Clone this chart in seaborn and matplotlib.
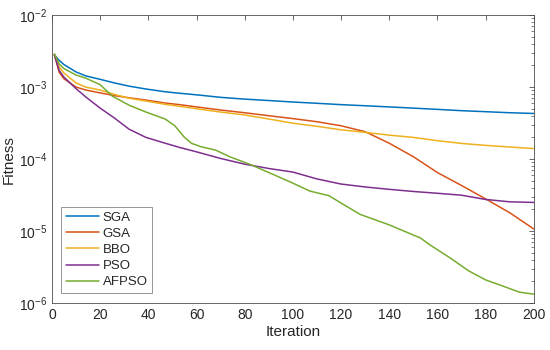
import matplotlib
matplotlib.use('Agg')
import matplotlib.pyplot as plt
import matplotlib.ticker as mticker
import seaborn as sns
import pandas as pd

# values
iters = [1, 3, 5, 10, 14, 20, 26, 32, 39, 47, 53, 60, 70, 80, 90, 100,
         110, 120, 130, 140, 150, 160, 170, 180, 190, 200]
sga = [2.8e-3, 2.35e-3, 2.05e-3, 1.62e-3, 1.43e-3, 1.28e-3, 1.14e-3, 1.03e-3, 9.4e-4,
       8.6e-4, 8.2e-4, 7.8e-4, 7.2e-4, 6.8e-4, 6.5e-4, 6.2e-4, 5.95e-4, 5.7e-4, 5.5e-4,
       5.3e-4, 5.1e-4, 4.9e-4, 4.7e-4, 4.55e-4, 4.4e-4, 4.3e-4]
gsa = [2.8e-3, 1.6e-3, 1.3e-3, 1.0e-3, 9.1e-4, 8.3e-4, 7.6e-4, 7.1e-4, 6.6e-4, 6.0e-4,
       5.7e-4, 5.3e-4, 4.8e-4, 4.4e-4, 4.0e-4, 3.65e-4, 3.3e-4, 2.9e-4, 2.4e-4, 1.66e-4,
       1.08e-4, 6.5e-5, 4.3e-5, 2.8e-5, 1.8e-5, 1.07e-5]
bbo = [2.8e-3, 1.9e-3, 1.56e-3, 1.14e-3, 1.0e-3, 9.1e-4, 7.9e-4, 7.0e-4, 6.4e-4, 5.75e-4,
       5.4e-4, 5.0e-4, 4.5e-4, 4.1e-4, 3.6e-4, 3.15e-4, 2.85e-4, 2.55e-4, 2.35e-4, 2.15e-4,
       2.0e-4, 1.8e-4, 1.65e-4, 1.55e-4, 1.47e-4, 1.4e-4]
pso = [2.8e-3, 1.7e-3, 1.37e-3, 9.5e-4, 7.3e-4, 5.1e-4, 3.7e-4, 2.6e-4, 2.0e-4, 1.66e-4,
       1.45e-4, 1.26e-4, 1.02e-4, 8.5e-5, 7.4e-5, 6.6e-5, 5.3e-5, 4.5e-5, 4.1e-5, 3.8e-5,
       3.55e-5, 3.35e-5, 3.15e-5, 2.75e-5, 2.55e-5, 2.5e-5]
iters_afpso = [1, 3, 5, 10, 14, 20, 25, 32, 39, 47, 51, 55, 58, 62, 68, 74, 82, 90, 99,
               107, 115, 120, 128, 140, 153, 157, 165, 173, 180, 186, 194, 200]
afpso = [2.9e-3, 2.1e-3, 1.8e-3, 1.47e-3, 1.33e-3, 1.08e-3, 7.5e-4, 5.6e-4, 4.5e-4, 3.6e-4,
         2.9e-4, 2.0e-4, 1.65e-4, 1.48e-4, 1.33e-4, 1.07e-4, 8.5e-5, 6.5e-5, 4.8e-5, 3.6e-5,
         3.1e-5, 2.45e-5, 1.7e-5, 1.22e-5, 8.0e-6, 6.4e-6, 4.3e-6, 2.8e-6, 2.1e-6, 1.78e-6,
         1.42e-6, 1.33e-6]

names = ['SGA', 'GSA', 'BBO', 'PSO', 'AFPSO']
colors = ['#0072BD', '#D95319', '#EDB120', '#7E2F8E', '#77AC30']

frames = []
for name, xs, ys in [('SGA', iters, sga), ('GSA', iters, gsa), ('BBO', iters, bbo),
                     ('PSO', iters, pso), ('AFPSO', iters_afpso, afpso)]:
    frames.append(pd.DataFrame({'Iteration': xs, 'Fitness': ys, 'Algorithm': name}))
df = pd.concat(frames, ignore_index=True)

sns.set_style('white')
plt.rcParams['font.family'] = ['Liberation Sans', 'DejaVu Sans']
plt.rcParams['mathtext.fontset'] = 'custom'
plt.rcParams['mathtext.rm'] = 'Liberation Sans'

fig = plt.figure(figsize=(5.5, 3.5), dpi=100)
ax = fig.add_axes([0.0945, 0.134, 0.876, 0.823])

sns.lineplot(data=df, x='Iteration', y='Fitness', hue='Algorithm', hue_order=names,
             palette=colors, estimator=None, sort=False, linewidth=1.1, ax=ax)

ax.set_yscale('log')
ax.set_xlim(0, 200)
ax.set_ylim(1e-6, 1e-2)
ax.set_xticks(range(0, 201, 20))
ax.yaxis.set_major_locator(mticker.LogLocator(base=10, numticks=10))
ax.yaxis.set_minor_locator(mticker.LogLocator(base=10, subs=range(2, 10), numticks=20))
ax.yaxis.set_minor_formatter(mticker.NullFormatter())

ax.tick_params(axis='both', which='both', direction='in', top=True, right=True,
               color='#4d4d4d', labelsize=10, labelcolor='#262626')
ax.tick_params(which='major', length=3.5, width=0.6)
ax.tick_params(which='minor', length=2, width=0.5)
for s in ax.spines.values():
    s.set_color('#4d4d4d')
    s.set_linewidth(0.6)

ax.set_xlabel('Iteration', fontsize=11, color='#262626', labelpad=2)
ax.set_ylabel('Fitness', fontsize=11, color='#262626', labelpad=2)

handles, labels = ax.get_legend_handles_labels()
leg = ax.legend(handles, labels, loc='lower left', bbox_to_anchor=(0.019, 0.035),
                borderaxespad=0, fontsize=9.5, frameon=True, fancybox=False,
                handlelength=2.5, labelspacing=0.3, borderpad=0.35,
                handletextpad=0.3)
leg.get_frame().set_edgecolor('#666666')
leg.get_frame().set_linewidth(0.6)

fig.savefig('out.png', dpi=100)
